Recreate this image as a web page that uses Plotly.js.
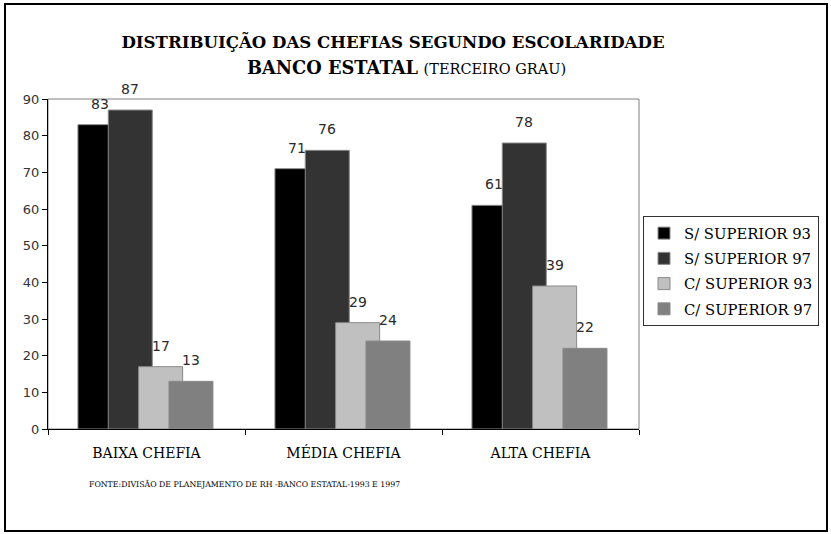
<!DOCTYPE html>
<html>
<head>
<meta charset="utf-8">
<script src="https://cdn.plot.ly/plotly-3.0.1.min.js"></script>
<style>html,body{margin:0;padding:0;background:#fff;}#chart{width:831px;height:534px;}</style>
</head>
<body>
<div id="chart"></div>
<script>
// ---- data ----
const categories = ["BAIXA CHEFIA", "MÉDIA CHEFIA", "ALTA CHEFIA"];
const seriesNames = ["S/ SUPERIOR 93", "S/ SUPERIOR 97", "C/ SUPERIOR 93", "C/ SUPERIOR 97"];
const semSuperior93 = [83, 71, 61];
const semSuperior97 = [87, 76, 78];
const comSuperior93 = [17, 29, 39];
const comSuperior97 = [13, 24, 22];
const yTickValues = [0, 10, 20, 30, 40, 50, 60, 70, 80, 90];
const titleLine1 = "DISTRIBUIÇÃO DAS CHEFIAS SEGUNDO ESCOLARIDADE";
const titleLine2Bold = "BANCO ESTATAL";
const titleLine2Normal = "(TERCEIRO GRAU)";
const sourceNote = "FONTE:DIVISÃO DE PLANEJAMENTO DE RH -BANCO ESTATAL-1993 E 1997";

// ---- styling ----
const colors = ["#000000", "#333333", "#c0c0c0", "#808080"];
const allSeries = [semSuperior93, semSuperior97, comSuperior93, comSuperior97];
const barWidth = 0.2234;
const offsets = [-0.348, -0.194, -0.040, 0.114];

const W = 831, H = 534;
const M = {l: 48, r: 192, t: 99, b: 105};
const pw = W - M.l - M.r, ph = H - M.t - M.b;
const px2x = p => (p - M.l) / pw;
const px2y = p => (H - M.b - p) / ph;

const serif = "DejaVu Serif";
const sans = "DejaVu Sans";

const traces = allSeries.map((vals, i) => ({
  type: "bar",
  name: seriesNames[i],
  x: categories,
  y: vals,
  width: barWidth,
  offset: offsets[i],
  legendgroup: "g" + i,
  marker: {color: colors[i], line: {color: "#8a8a8a", width: 1}},
  hoverinfo: "skip"
}));

const annotations = [];
allSeries.forEach((vals, i) => {
  vals.forEach((v, j) => {
    annotations.push({
      x: j + offsets[i] + barWidth / 2, y: v, xref: "x", yref: "y",
      text: String(v), showarrow: false, yanchor: "bottom", xanchor: "center",
      yshift: 11, font: {family: sans, size: 14, color: "#2a2a2a"}
    });
  });
});

annotations.push({
  xref: "paper", yref: "paper", x: px2x(406), y: px2y(68),
  xanchor: "center", yanchor: "middle", showarrow: false,
  text: "<b>" + titleLine2Bold + "</b> <span style='font-size:14.5px'>" + titleLine2Normal + "</span>",
  font: {family: serif, size: 17.8, color: "#000"}
});
annotations.push({
  xref: "paper", yref: "paper", x: px2x(244), y: px2y(484),
  xanchor: "center", yanchor: "middle", showarrow: false,
  text: sourceNote, font: {family: serif, size: 7.8, color: "#000"}
});

const shapes = [
  {type: "rect", xref: "paper", yref: "paper", x0: 0, x1: 1, y0: 0, y1: 1,
   line: {color: "#808080", width: 1}, layer: "below"},
  {type: "rect", xref: "paper", yref: "paper",
   x0: px2x(5), x1: px2x(827), y0: px2y(531), y1: px2y(4),
   line: {color: "#000", width: 2}}
];

const layout = {
  width: W, height: H,
  margin: M,
  paper_bgcolor: "#fff", plot_bgcolor: "#fff",
  barmode: "overlay",
  showlegend: true,
  font: {family: serif},
  title: {
    text: "<b>" + titleLine1 + "</b>",
    xref: "container", yref: "container",
    x: 393 / W, y: 1 - 42 / H, xanchor: "center", yanchor: "middle",
    font: {family: serif, size: 16.6, color: "#000"}
  },
  xaxis: {
    type: "category", range: [-0.5, 2.5],
    showline: true, linecolor: "#000", linewidth: 1,
    ticks: "outside", ticklen: 5, tickcolor: "#000", tickson: "boundaries",
    ticklabelstandoff: 11,
    tickfont: {family: serif, size: 14, color: "#000"},
    showgrid: false, zeroline: false, fixedrange: true
  },
  yaxis: {
    range: [0, 90], tickvals: yTickValues,
    showline: true, linecolor: "#000", linewidth: 1,
    ticks: "outside", ticklen: 5, tickcolor: "#000",
    tickfont: {family: sans, size: 13, color: "#333"},
    showgrid: false, zeroline: false, fixedrange: true
  },
  legend: {
    x: px2x(643), y: px2y(216), xanchor: "left", yanchor: "top",
    bordercolor: "#333", borderwidth: 1, bgcolor: "#fff",
    traceorder: "grouped", tracegroupgap: 3,
    font: {family: serif, size: 14.8, color: "#000"}
  },
  annotations: annotations,
  shapes: shapes
};

Plotly.newPlot("chart", traces, layout, {staticPlot: true, displayModeBar: false});
</script>
</body>
</html>
